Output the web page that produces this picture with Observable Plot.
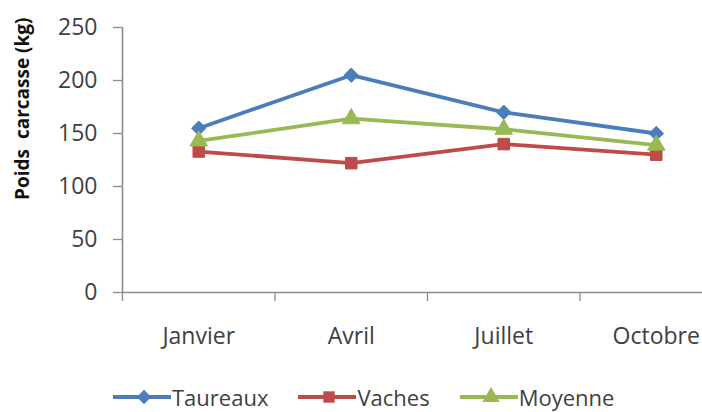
<!DOCTYPE html>
<html>
<head>
<meta charset="utf-8">
<script src="https://cdn.jsdelivr.net/npm/d3@7"></script>
<script src="https://cdn.jsdelivr.net/npm/@observablehq/plot@0.6"></script>
<style>
  html, body { margin: 0; padding: 0; background: #fff; }
  #chart { width: 702px; height: 412px; position: relative; overflow: hidden; font-family: "Open Sans", sans-serif; }
  #chart > svg { position: absolute; left: 0; top: 0; }
  #legend { position: absolute; left: 113px; top: 385px; display: flex; align-items: center; font-size: 22px; line-height: 24px; color: #404040; white-space: nowrap; }
  .item { display: flex; align-items: center; margin-right: 30px; }
  .item svg { margin-right: 1px; display: block; }
</style>
</head>
<body>
<div id="chart"></div>
<script>
const months = ["Janvier", "Avril", "Juillet", "Octobre"];
const series = ["Taureaux", "Vaches", "Moyenne"];
const taureaux = [155, 205, 170, 150];
const vaches = [133, 122, 140, 130];
const moyenne = [143, 164, 154, 139];
const yTicks = [0, 50, 100, 150, 200, 250];
const yLabel = "Poids  carcasse (kg)";

const values = [taureaux, vaches, moyenne];
const colors = ["#4A7EBB", "#BE4B48", "#98B954"];
const symbols = ["diamond2", "square", "triangle"];

const data = series.flatMap((s, si) =>
  months.map((m, i) => ({series: s, month: m, idx: i + 0.5, value: values[si][i]}))
);

const axisColor = "#8c8c8c";
const textColor = "#404040";

const plot = Plot.plot({
  width: 702,
  height: 370,
  marginLeft: 122,
  marginTop: 27,
  marginBottom: 78,
  marginRight: -30,
  style: {fontFamily: "'Open Sans', sans-serif", background: "transparent", overflow: "hidden"},
  x: {type: "linear", domain: [0, months.length], range: [122, 732]},
  y: {domain: [0, 250], range: [292, 27]},
  color: {domain: series, range: colors},
  symbol: {domain: series, range: symbols},
  marks: [
    Plot.axisY({ticks: yTicks, tickSize: 9, tickPadding: 16, label: null, fontSize: 23, color: textColor, stroke: axisColor, strokeWidth: 1.3}),
    Plot.axisX({ticks: d3.range(0, months.length + 1), tickSize: 9, tickFormat: () => "", label: null, stroke: axisColor, strokeWidth: 1.3}),
    Plot.axisX({ticks: months.map((m, i) => i + 0.5), tickSize: 0, tickPadding: 35, tickFormat: d => months[Math.round(d - 0.5)], label: null, fontSize: 23, color: textColor}),
    Plot.ruleY([0], {x1: 0, x2: months.length, stroke: axisColor, strokeWidth: 1.6}),
    Plot.ruleX([0], {y1: 0, y2: 250, stroke: axisColor, strokeWidth: 1.6}),
    Plot.line(data, {x: "idx", y: "value", z: "series", stroke: "series", strokeWidth: 3.8}),
    Plot.dot(data, {x: "idx", y: "value", fill: "series", symbol: "series", r: 6.5, stroke: "series", strokeWidth: 1}),
    Plot.text([yLabel], {frameAnchor: "top-left", rotate: -90, textAnchor: "end", lineAnchor: "bottom", dx: -94, dy: -10, fontSize: 19, fontWeight: "bold", fill: "#111"})
  ]
});

const chart = document.getElementById("chart");
chart.appendChild(plot);

const legend = document.createElement("div");
legend.id = "legend";
series.forEach((s, i) => {
  const item = document.createElement("div");
  item.className = "item";
  const sw = d3.create("svg").attr("width", 58).attr("height", 24);
  sw.append("line").attr("x1", 0).attr("x2", 58).attr("y1", 12).attr("y2", 12).attr("stroke", colors[i]).attr("stroke-width", 3.8);
  const symType = [d3.symbolDiamond2, d3.symbolSquare, d3.symbolTriangle][i];
  sw.append("path").attr("d", d3.symbol(symType, 130)()).attr("transform", "translate(31,12)").attr("fill", colors[i]);
  item.appendChild(sw.node());
  const t = document.createElement("span");
  t.textContent = s;
  item.appendChild(t);
  legend.appendChild(item);
});
chart.appendChild(legend);
</script>
</body>
</html>
